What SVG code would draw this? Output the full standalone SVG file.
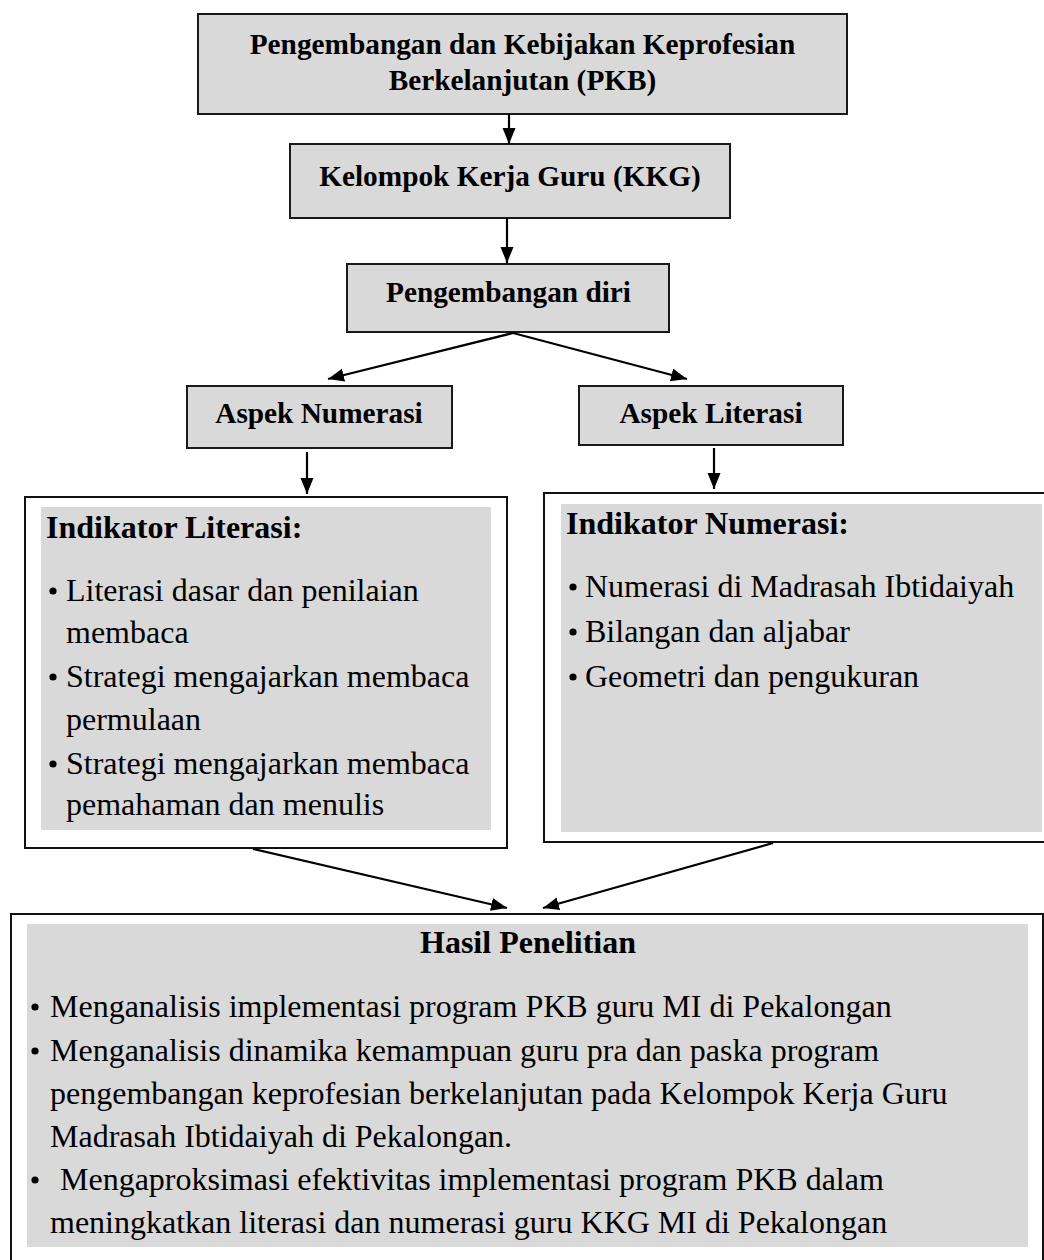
<svg xmlns="http://www.w3.org/2000/svg" width="1044" height="1260" viewBox="0 0 1044 1260">
<style>
.box{fill:#d9d9d9;stroke:#1a1a1a;stroke-width:2}
.outer{fill:#ffffff;stroke:#111;stroke-width:2}
.inner{fill:#d9d9d9;stroke:none}
.tb{font-family:"Liberation Serif","Times New Roman",serif;font-weight:bold;font-size:29.3px;fill:#000;text-anchor:middle}
.hb{font-family:"Liberation Serif","Times New Roman",serif;font-weight:bold;font-size:32px;fill:#000}
.tr{font-family:"Liberation Serif","Times New Roman",serif;font-size:32px;fill:#000}
.bl{fill:#000}
.conn line{stroke:#000;stroke-width:2.2;marker-end:url(#ah)}
</style>
<defs>
<marker id="ah" markerUnits="userSpaceOnUse" markerWidth="18" markerHeight="14" refX="16" refY="6.5" orient="auto">
<path d="M0,0 L16,6.5 L0,13 z" fill="#000"/>
</marker>
</defs>
<rect width="1044" height="1260" fill="#fff"/>

<g id="node-pkb">
<rect class="box" x="198" y="14" width="649" height="100"/>
<text class="tb" x="522.5" y="54">Pengembangan dan Kebijakan Keprofesian</text>
<text class="tb" x="522.5" y="90">Berkelanjutan (PKB)</text>
</g>

<g id="node-kkg">
<rect class="box" x="290" y="144" width="440" height="74"/>
<text class="tb" x="510" y="186">Kelompok Kerja Guru (KKG)</text>
</g>

<g id="node-diri">
<rect class="box" x="347" y="264" width="322" height="68"/>
<text class="tb" x="508.5" y="302">Pengembangan diri</text>
</g>

<g id="node-aspek-numerasi">
<rect class="box" x="187" y="386" width="265" height="62"/>
<text class="tb" x="319" y="423">Aspek Numerasi</text>
</g>

<g id="node-aspek-literasi">
<rect class="box" x="579" y="386" width="264" height="59"/>
<text class="tb" x="711" y="423">Aspek Literasi</text>
</g>

<g id="node-indikator-literasi">
<rect class="outer" x="25" y="497" width="482" height="351"/>
<rect class="inner" x="41" y="507" width="450" height="323"/>
<text class="hb" x="46" y="538">Indikator Literasi:</text>
<circle class="bl" cx="53" cy="591" r="3.6"/>
<text class="tr" x="66" y="601">Literasi dasar dan penilaian</text>
<text class="tr" x="66" y="643">membaca</text>
<circle class="bl" cx="53" cy="677" r="3.6"/>
<text class="tr" x="66" y="687">Strategi mengajarkan membaca</text>
<text class="tr" x="66" y="730">permulaan</text>
<circle class="bl" cx="53" cy="764" r="3.6"/>
<text class="tr" x="66" y="774">Strategi mengajarkan membaca</text>
<text class="tr" x="66" y="815">pemahaman dan menulis</text>
</g>

<g id="node-indikator-numerasi">
<rect class="outer" x="544" y="493" width="510" height="349"/>
<rect class="inner" x="561" y="504" width="481" height="328"/>
<text class="hb" x="566" y="534">Indikator Numerasi:</text>
<circle class="bl" cx="573" cy="587" r="3.6"/>
<text class="tr" x="585" y="597">Numerasi di Madrasah Ibtidaiyah</text>
<circle class="bl" cx="573" cy="632" r="3.6"/>
<text class="tr" x="585" y="642">Bilangan dan aljabar</text>
<circle class="bl" cx="573" cy="677" r="3.6"/>
<text class="tr" x="585" y="687">Geometri dan pengukuran</text>
</g>

<g id="node-hasil">
<rect class="outer" x="11" y="914" width="1032" height="360"/>
<rect class="inner" x="27" y="924" width="1001" height="323"/>
<text class="hb" x="528" y="953" text-anchor="middle">Hasil Penelitian</text>
<circle class="bl" cx="35" cy="1007" r="3.6"/>
<text class="tr" x="50" y="1017">Menganalisis implementasi program PKB guru MI di Pekalongan</text>
<circle class="bl" cx="35" cy="1051" r="3.6"/>
<text class="tr" x="50" y="1061">Menganalisis dinamika kemampuan guru pra dan paska program</text>
<text class="tr" x="50" y="1104">pengembangan keprofesian berkelanjutan pada Kelompok Kerja Guru</text>
<text class="tr" x="50" y="1147">Madrasah Ibtidaiyah di Pekalongan.</text>
<circle class="bl" cx="35" cy="1180" r="3.6"/>
<text class="tr" x="60" y="1190">Mengaproksimasi efektivitas implementasi program PKB dalam</text>
<text class="tr" x="50" y="1233">meningkatkan literasi dan numerasi guru KKG MI di Pekalongan</text>
</g>

<g id="connectors" class="conn">
<line x1="509" y1="114" x2="509" y2="144"/>
<line x1="507" y1="218" x2="507" y2="263"/>
<line x1="513" y1="333" x2="328" y2="379"/>
<line x1="513" y1="333" x2="687" y2="379"/>
<line x1="307" y1="452" x2="307" y2="494"/>
<line x1="714" y1="448" x2="714" y2="489"/>
<line x1="253" y1="849" x2="507" y2="908"/>
<line x1="773" y1="843" x2="543" y2="908"/>
</g>
</svg>
